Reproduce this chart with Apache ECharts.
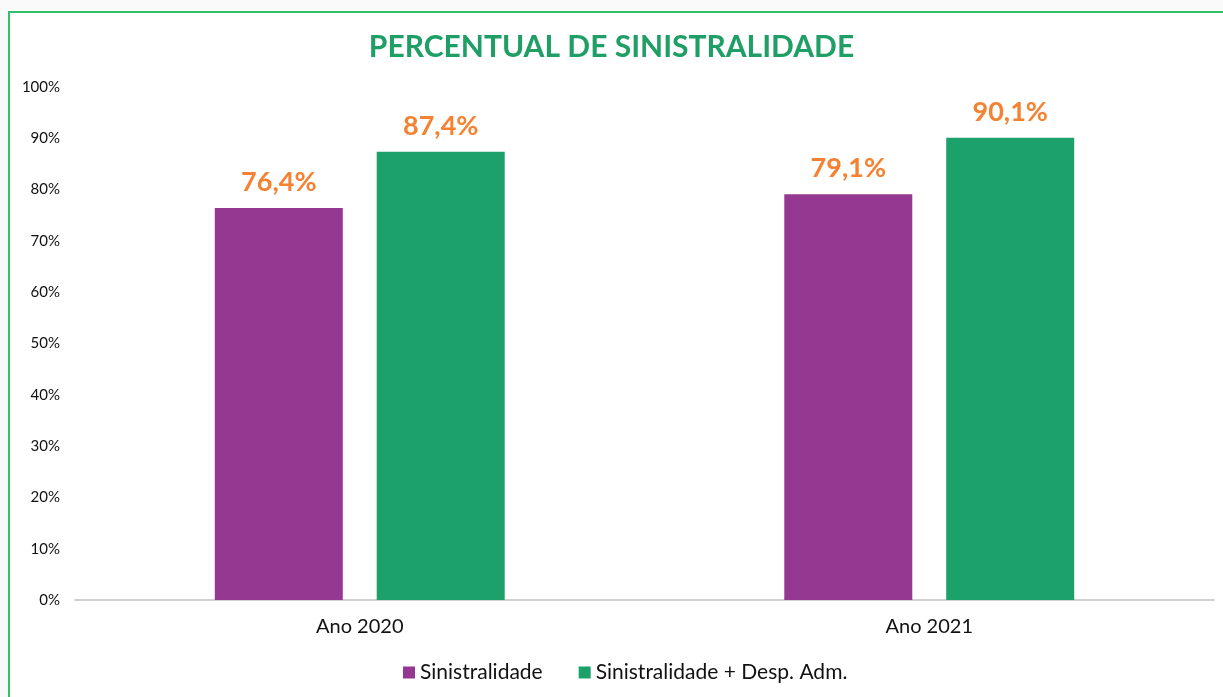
<!DOCTYPE html>
<html>
<head>
<meta charset="utf-8">
<script src="https://cdn.jsdelivr.net/npm/echarts@6/dist/echarts.min.js"></script>
<style>
  html, body { margin: 0; padding: 0; background: #fafafa; }
  #frame { position: absolute; left: 8px; top: 11px; width: 1230px; height: 700px;
           border-top: 2px solid #2fc06a; border-left: 2px solid #2fc06a; background: #fff; }
  #chart { position: absolute; left: 0; top: 0; width: 1223px; height: 697px; }
</style>
</head>
<body>
<div id="frame"></div>
<div id="chart"></div>
<script>
var categories = ['Ano 2020', 'Ano 2021'];
var sinistralidade = [76.4, 79.1];
var sinistralidadeDesp = [87.4, 90.1];
var seriesNames = ['Sinistralidade', 'Sinistralidade + Desp. Adm.'];

var chart = echarts.init(document.getElementById('chart'));

var labelOpt = {
  show: true,
  position: 'top',
  distance: 12,
  color: '#f58232',
  fontFamily: 'Lato',
  fontWeight: 'bold',
  fontSize: 27,
  formatter: function (p) { return p.value.toFixed(1).replace('.', ',') + '%'; }
};

chart.setOption({
  backgroundColor: 'transparent',
  title: {
    text: 'PERCENTUAL DE SINISTRALIDADE',
    left: 'center',
    top: 27,
    textStyle: { color: '#1f9e66', fontFamily: 'Lato', fontWeight: 'bold', fontSize: 30 }
  },
  legend: {
    bottom: 9,
    left: 398,
    itemWidth: 12,
    itemHeight: 12,
    itemGap: 36,
    icon: 'rect',
    textStyle: { color: '#111', fontFamily: 'Lato', fontSize: 21 },
    data: seriesNames
  },
  grid: { left: 75, right: 9, top: 87, bottom: 97 },
  xAxis: {
    type: 'category',
    data: categories,
    axisLine: { lineStyle: { color: '#d0d0d0', width: 2 } },
    axisTick: { show: false },
    axisLabel: { color: '#111', fontFamily: 'Lato', fontSize: 20, margin: 17 }
  },
  yAxis: {
    type: 'value',
    min: 0,
    max: 100,
    interval: 10,
    splitLine: { show: false },
    axisLine: { show: false },
    axisTick: { show: false },
    axisLabel: { color: '#111', fontFamily: 'Lato', fontSize: 15, margin: 15, formatter: '{value}%' }
  },
  series: [
    {
      name: seriesNames[0],
      type: 'bar',
      data: sinistralidade,
      barWidth: 128,
      barGap: '26.5%',
      itemStyle: { color: '#953891' },
      label: labelOpt
    },
    {
      name: seriesNames[1],
      type: 'bar',
      data: sinistralidadeDesp,
      barWidth: 128,
      itemStyle: { color: '#1ca16b' },
      label: labelOpt
    }
  ]
});
</script>
</body>
</html>
